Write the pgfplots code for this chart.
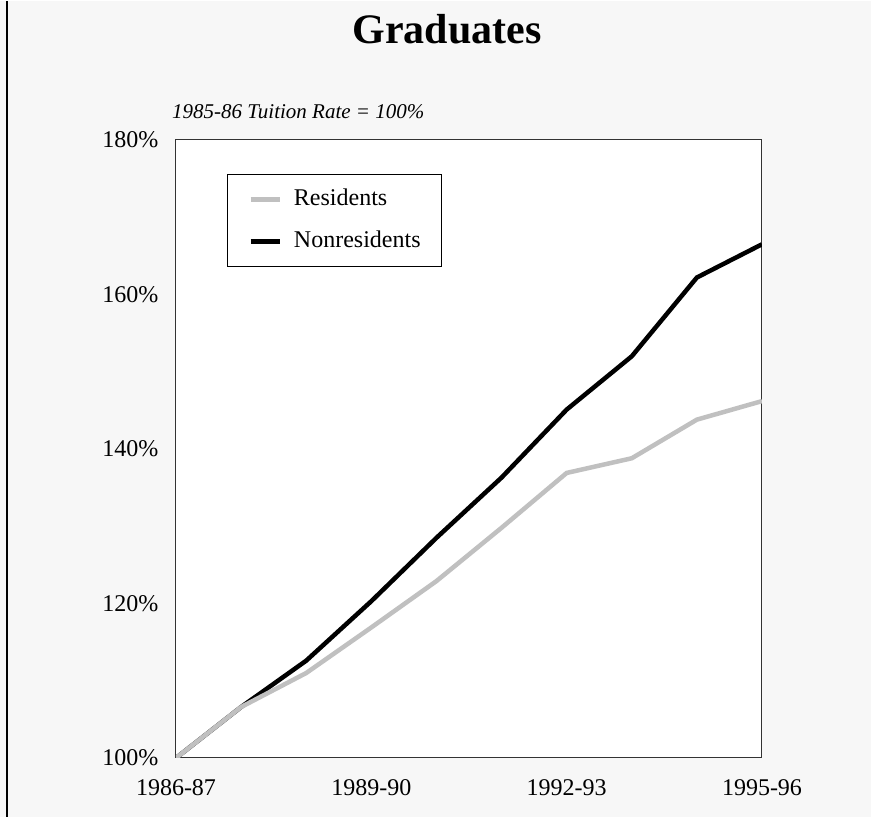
\documentclass[border=0pt]{standalone}
\usepackage{fontspec}
\setmainfont{Liberation Serif}
\usepackage{pgfplots}
\pgfplotsset{compat=1.18}
\definecolor{bgc}{HTML}{F7F7F7}
\definecolor{resc}{HTML}{C0C0C0}

\begin{document}
\begin{tikzpicture}
% page background and left rule
\fill[bgc] (-176pt,-59pt) rectangle (695pt,757pt);
\draw[line width=2pt] (-169pt,-59pt) -- (-169pt,757pt);

\begin{axis}[
    at={(0pt,0pt)}, anchor=south west,
    scale only axis,
    width=586pt, height=618pt,
    xmin=0, xmax=9,
    ymin=100, ymax=180,
    xtick={0,3,6,9},
    xticklabels={1986-87,1989-90,1992-93,1995-96},
    ytick={100,120,140,160,180},
    yticklabels={100\%,120\%,140\%,160\%,180\%},
    major tick length=0pt,
    axis line style={black!80, line width=1pt},
    axis background/.style={fill=white},
    tick label style={font=\fontsize{24}{28}\selectfont},
    xticklabel style={yshift=-18pt},
    yticklabel style={xshift=-14pt},
    reverse legend,
    legend cell align=left,
    legend style={at={(0.087,0.945)}, anchor=north west,
        draw=black, line width=1pt, fill=white,
        font=\fontsize{24}{28}\selectfont,
        nodes={inner sep=0pt, text height=17pt, text depth=5pt},
        inner xsep=21pt, inner ysep=14pt, row sep=20pt, column sep=12pt},
    legend image code/.code={\draw[#1] (0pt,0pt) -- (29pt,0pt);},
]
\addplot[black, line width=4.5pt] coordinates {
    (0,100) (1,106.6) (2,112.6) (3,120.3) (4,128.5)
    (5,136.3) (6,145.1) (7,152.0) (8,162.2) (9,166.5)
};
\addlegendentry{Nonresidents}

\addplot[resc, line width=4.5pt] coordinates {
    (0,100) (1,106.6) (2,111.0) (3,116.9) (4,122.9)
    (5,129.8) (6,136.9) (7,138.8) (8,143.8) (9,146.2)
};
\addlegendentry{Residents}
\end{axis}

\node[anchor=base, font=\fontsize{42}{46}\selectfont\bfseries] at (271pt,714pt) {Graduates};
\node[anchor=base west, inner sep=0pt, font=\fontsize{21}{25}\selectfont\itshape] at (-4pt,639pt) {1985-86 Tuition Rate = 100\%};
\end{tikzpicture}
\end{document}
